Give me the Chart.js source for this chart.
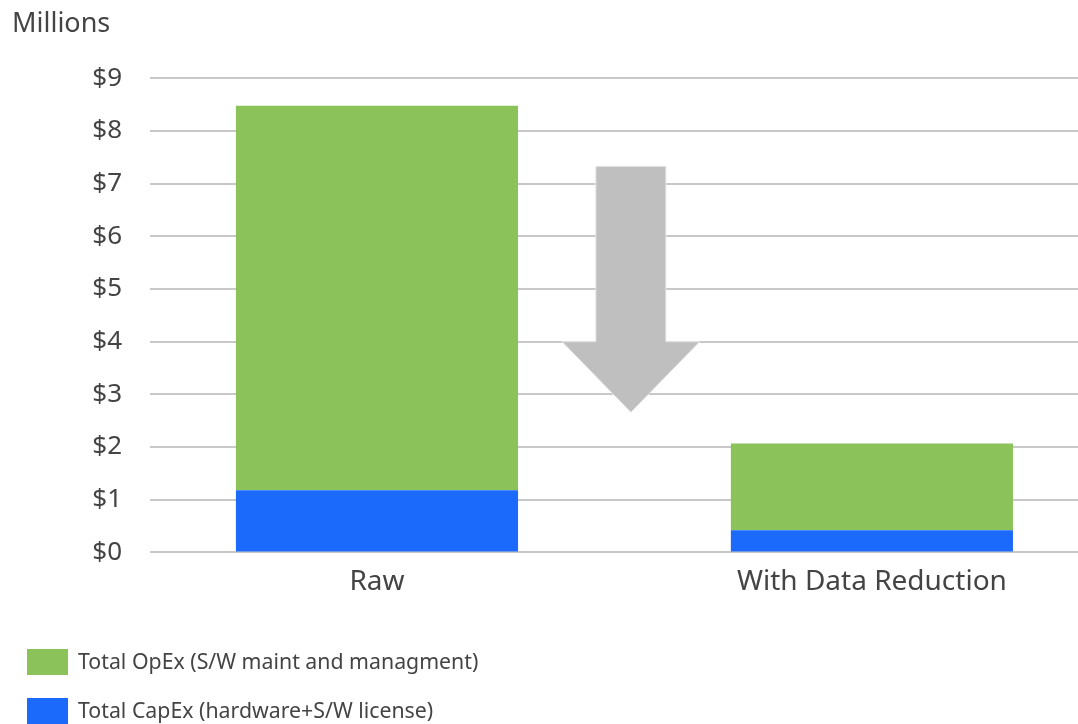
<!DOCTYPE html>
<html>
<head>
<meta charset="utf-8">
<script src="https://cdn.jsdelivr.net/npm/chart.js@4.4.1/dist/chart.umd.min.js"></script>
<style>
  html, body { margin: 0; padding: 0; background: #fff; overflow: hidden; }
  #wrap { width: 1078px; height: 724px; position: relative; }
</style>
</head>
<body>
<div id="wrap"><canvas id="chart"></canvas></div>
<script>
'use strict';

const categories = ['Raw', 'With Data Reduction'];
const capex = [1.18, 0.42];
const opex = [7.30, 1.65];
const yTicks = [0, 1, 2, 3, 4, 5, 6, 7, 8, 9];

// the grey "reduction" arrow, in data units
const arrowX = 0.513;
const arrowTop = 7.33;
const arrowNeck = 4.0;
const arrowTip = 2.66;

const TEXT = '#444444';
const FONT = '"Noto Sans", "Open Sans", sans-serif';

const arrowPlugin = {
  id: 'arrow',
  afterDatasetsDraw(chart) {
    const { ctx, scales: { x, y } } = chart;
    const cx = x.getPixelForValue(arrowX);
    const shaft = x.getPixelForValue(arrowX + 0.0707) - cx;
    const head = x.getPixelForValue(arrowX + 0.139) - cx;
    ctx.save();
    ctx.beginPath();
    ctx.moveTo(cx - shaft, y.getPixelForValue(arrowTop));
    ctx.lineTo(cx + shaft, y.getPixelForValue(arrowTop));
    ctx.lineTo(cx + shaft, y.getPixelForValue(arrowNeck));
    ctx.lineTo(cx + head, y.getPixelForValue(arrowNeck));
    ctx.lineTo(cx, y.getPixelForValue(arrowTip));
    ctx.lineTo(cx - head, y.getPixelForValue(arrowNeck));
    ctx.lineTo(cx - shaft, y.getPixelForValue(arrowNeck));
    ctx.closePath();
    ctx.fillStyle = '#bfbfbf';
    ctx.fill();
    ctx.strokeStyle = '#e6e6e6';
    ctx.lineWidth = 1;
    ctx.stroke();
    ctx.restore();
  }
};

// stacked legend, one entry per line, top series first
const legendPlugin = {
  id: 'columnLegend',
  afterDraw(chart) {
    const { ctx } = chart;
    const items = chart.data.datasets.slice().reverse();
    ctx.save();
    ctx.font = '21.3px ' + FONT;
    ctx.textBaseline = 'middle';
    items.forEach((ds, i) => {
      const top = 649 + i * 49;
      ctx.fillStyle = ds.backgroundColor;
      ctx.fillRect(27, top, 41, 26);
      ctx.fillStyle = TEXT;
      ctx.fillText(ds.label, 78, top + 14);
    });
    ctx.restore();
  }
};

new Chart(document.getElementById('chart'), {
  type: 'bar',
  data: {
    datasets: [
      {
        label: 'Total CapEx (hardware+S/W license)',
        data: categories.map((c, i) => ({ x: i, y: capex[i] })),
        backgroundColor: '#1b6afb',
        barPercentage: 0.57,
        categoryPercentage: 1
      },
      {
        label: 'Total OpEx (S/W maint and managment)',
        data: categories.map((c, i) => ({ x: i, y: opex[i] })),
        backgroundColor: '#8bc25a',
        barPercentage: 0.57,
        categoryPercentage: 1
      }
    ]
  },
  options: {
    responsive: true,
    maintainAspectRatio: false,
    animation: false,
    layout: { padding: { left: 12, right: 0, top: 0, bottom: 120 } },
    plugins: {
      title: {
        display: true,
        text: 'Millions',
        align: 'start',
        color: TEXT,
        font: { family: FONT, size: 27, weight: 'normal' },
        padding: { top: 8, bottom: 38 }
      },
      legend: { display: false },
      tooltip: { enabled: false }
    },
    scales: {
      x: {
        type: 'linear',
        stacked: true,
        offset: false,
        min: -0.4586,
        max: 1.4164,
        afterBuildTicks(axis) {
          axis.ticks = categories.map((c, i) => ({ value: i }));
        },
        ticks: {
          color: TEXT,
          font: { family: FONT, size: 28 },
          padding: 5,
          maxRotation: 0,
          autoSkip: false,
          callback: v => categories[v]
        },
        grid: { display: false },
        border: { display: false }
      },
      y: {
        stacked: true,
        min: 0,
        max: 9,
        afterBuildTicks(axis) {
          axis.ticks = yTicks.map(v => ({ value: v }));
        },
        afterFit(axis) {
          axis.width = 138;
        },
        ticks: {
          color: TEXT,
          font: { family: FONT, size: 26 },
          padding: 28,
          callback: v => '$' + v
        },
        grid: { color: '#c8c8c8', lineWidth: 2, drawTicks: false },
        border: { display: false }
      }
    }
  },
  plugins: [arrowPlugin, legendPlugin]
});
</script>
</body>
</html>
